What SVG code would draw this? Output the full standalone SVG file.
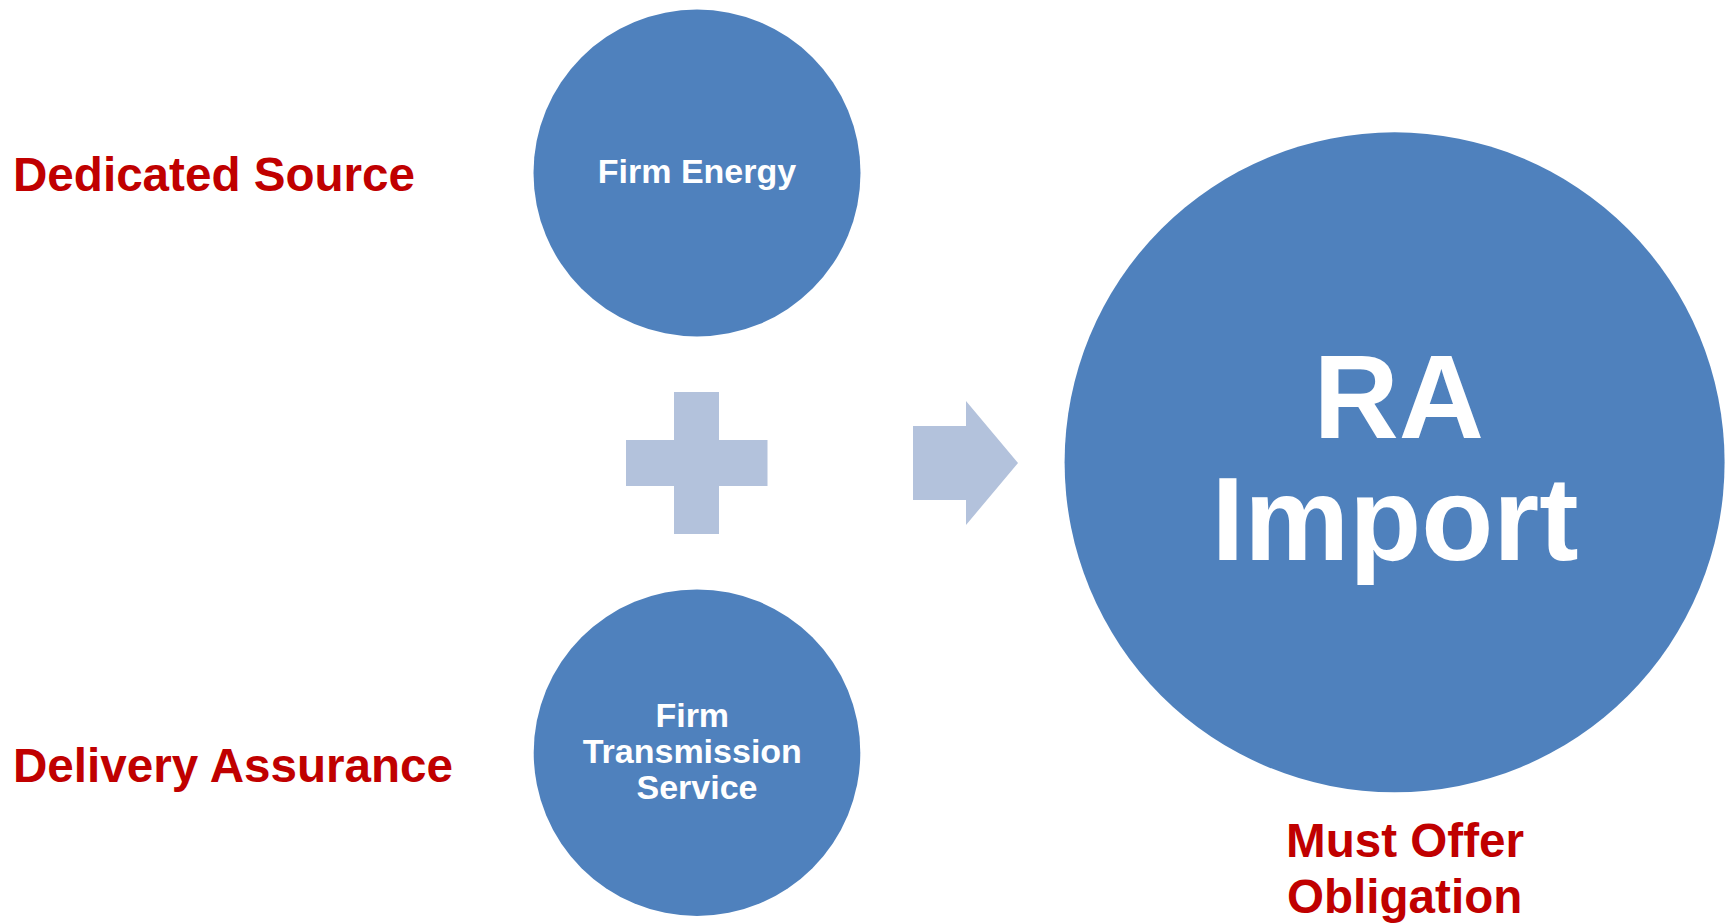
<svg xmlns="http://www.w3.org/2000/svg" width="1728" height="924" viewBox="0 0 1728 924">
<style>
.node{fill:#4F81BD}
.sym{fill:#B3C2DC}
.lbl{font-family:"Liberation Sans",Arial,sans-serif;font-weight:bold;fill:#C00000;font-size:47.6px}
.in{font-family:"Liberation Sans",Arial,sans-serif;font-weight:bold;fill:#FFFFFF;text-anchor:middle}
</style>
<rect width="1728" height="924" fill="#FFFFFF"/>
<g id="label-dedicated"><text class="lbl" x="13" y="191">Dedicated Source</text></g>
<g id="label-delivery"><text class="lbl" x="13" y="782">Delivery Assurance</text></g>
<g id="node-firm-energy">
<circle class="node" cx="697" cy="173" r="163.5"/>
<text class="in" x="697" y="183.3" font-size="34">Firm Energy</text>
</g>
<g id="node-firm-transmission">
<circle class="node" cx="697" cy="752.7" r="163.3"/>
<text class="in" x="697" font-size="34">
<tspan x="697" y="726.7">Firm</tspan>
<tspan x="697" y="763">Transmission</tspan>
<tspan x="697" y="799.3">Service</tspan>
</text>
</g>
<g id="node-ra-import">
<circle class="node" cx="1394.6" cy="462.3" r="330"/>
<text class="in" font-size="118">
<tspan x="1413" y="438.3">RA</tspan>
<tspan x="1395" y="560">Import</tspan>
</text>
</g>
<g id="label-must-offer">
<text class="lbl">
<tspan x="1286" y="856.7">Must Offer</tspan>
<tspan x="1287" y="913">Obligation</tspan>
</text>
</g>
<g id="connectors">
<path class="sym" d="M674,392 H719 V440 H767.5 V486 H719 V534 H674 V486 H626 V440 H674 Z"/>
<path class="sym" d="M913,426 H966 V401 L1018,463 L966,525 V500 H913 Z"/>
</g>
</svg>
